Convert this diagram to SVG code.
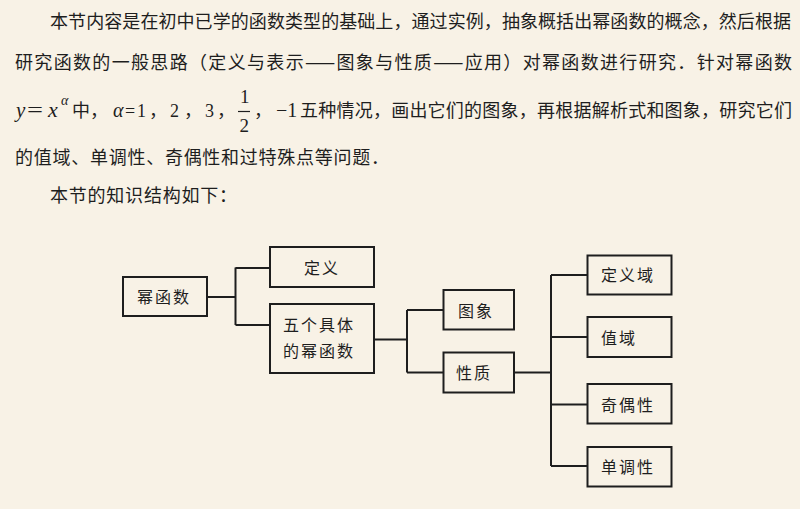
<svg xmlns="http://www.w3.org/2000/svg" width="800" height="509" viewBox="0 0 800 509">
<style>
.cn{font-family:"Noto Sans CJK SC","Noto Sans",sans-serif;font-size:18px;fill:#1e1e1e;}
.m{font-family:"Liberation Serif","Times New Roman",serif;fill:#1e1e1e;}
.i{font-style:italic;}
.box{fill:none;stroke:#1e1e1e;stroke-width:2;}
.lbl{font-family:"Noto Sans CJK SC","Noto Sans",sans-serif;font-size:16px;letter-spacing:2px;fill:#1e1e1e;}
.conn{fill:none;stroke:#1e1e1e;stroke-width:2;}
</style>
<rect x="0" y="0" width="800" height="509" fill="#F8F2E6"/>
<text class="cn" x="50" y="28" textLength="741" lengthAdjust="spacing">本节内容是在初中已学的函数类型的基础上，通过实例，抽象概括出幂函数的概念，然后根据</text>
<text class="cn" x="15" y="69" textLength="777" lengthAdjust="spacing">研究函数的一般思路（定义与表示——图象与性质——应用）对幂函数进行研究．针对幂函数</text>
<text class="m i" x="16" y="116.5" font-size="21">y</text>
<text class="m" x="27" y="116.5" font-size="22" textLength="16" lengthAdjust="spacingAndGlyphs">=</text>
<text class="m i" x="48" y="116.5" font-size="22">x</text>
<text class="m i" x="61" y="105" font-size="14">α</text>
<text class="cn" x="72" y="116.5">中，</text>
<text class="m i" x="113" y="116.5" font-size="20">α</text>
<text class="m" x="125" y="116.5" font-size="18">=</text>
<text class="m" x="137" y="116.5" font-size="18">1</text>
<text class="cn" x="149" y="116.5">，</text>
<text class="m" x="170" y="116.5" font-size="18">2</text>
<text class="cn" x="184" y="116.5">，</text>
<text class="m" x="205" y="116.5" font-size="18">3</text>
<text class="cn" x="217" y="116.5">，</text>
<text class="m" x="240" y="103" font-size="19">1</text>
<line x1="238" y1="111.5" x2="250" y2="111.5" stroke="#1e1e1e" stroke-width="1.2"/>
<text class="m" x="239.5" y="131.5" font-size="19">2</text>
<text class="cn" x="254" y="116.5">，</text>
<text class="m" x="276" y="116.5" font-size="20">−1</text>
<text class="cn" x="300" y="116.5" textLength="492" lengthAdjust="spacing">五种情况，画出它们的图象，再根据解析式和图象，研究它们</text>
<text class="cn" x="15" y="164" textLength="374" lengthAdjust="spacing">的值域、单调性、奇偶性和过特殊点等问题．</text>
<text class="cn" x="50" y="202" textLength="187" lengthAdjust="spacing">本节的知识结构如下：</text>

<g id="connectors">
<path class="conn" d="M207 297 H235.5 M235.5 267.5 V325 M235.5 268 H270 M235.5 325 H270"/>
<path class="conn" d="M374 339.5 H407 M407 310 V372.5 M407 310 H443.5 M407 372.5 H443.5"/>
<path class="conn" d="M514 372.5 H551 M551 275 V466 M551 275 H587.5 M551 337 H587.5 M551 404.5 H587.5 M551 466 H587.5"/>
</g>

<g id="node-mihanshu"><rect class="box" x="123" y="277" width="84" height="39"/><text class="lbl" x="137" y="303">幂函数</text></g>
<g id="node-dingyi"><rect class="box" x="270" y="247" width="104" height="40"/><text class="lbl" x="304" y="274">定义</text></g>
<g id="node-wuge"><rect class="box" x="270" y="304" width="104" height="69"/><text class="lbl" x="283" y="331">五个具体</text><text class="lbl" x="283" y="357">的幂函数</text></g>
<g id="node-tuxiang"><rect class="box" x="443.5" y="290" width="70.5" height="39.5"/><text class="lbl" x="458" y="317">图象</text></g>
<g id="node-xingzhi"><rect class="box" x="443.5" y="352.5" width="70.5" height="40"/><text class="lbl" x="456" y="379">性质</text></g>
<g id="node-dingyiyu"><rect class="box" x="587.5" y="255.5" width="84" height="39"/><text class="lbl" x="601" y="281">定义域</text></g>
<g id="node-zhiyu"><rect class="box" x="587.5" y="317" width="84" height="40"/><text class="lbl" x="601" y="344">值域</text></g>
<g id="node-qiou"><rect class="box" x="587.5" y="384" width="84" height="39.5"/><text class="lbl" x="601" y="411">奇偶性</text></g>
<g id="node-dandiao"><rect class="box" x="587.5" y="447" width="84" height="39.5"/><text class="lbl" x="601" y="473">单调性</text></g>
</svg>
